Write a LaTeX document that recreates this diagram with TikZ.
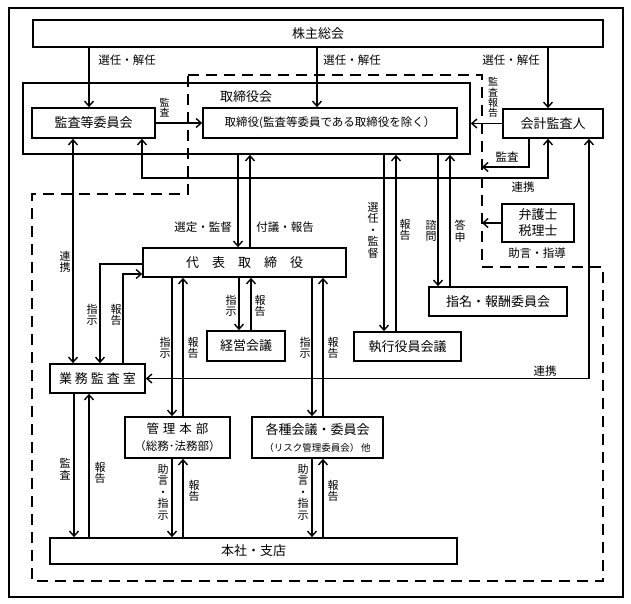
\documentclass[tikz,border=0pt]{standalone}
\usepackage{fontspec}
\setmainfont{Noto Sans CJK JP}
\usetikzlibrary{arrows.meta}
\begin{document}
\begin{tikzpicture}[x=1pt,y=-1pt,
 box/.style={draw, line width=1.7pt, inner sep=0pt, font=\fontsize{13}{15}\selectfont, align=center},
 arr/.style={line width=1.4pt, -{Straight Barb[length=5pt,width=9pt]}},
 arrboth/.style={line width=1.4pt, {Straight Barb[length=5pt,width=9pt]}-{Straight Barb[length=5pt,width=9pt]}},
 lbl/.style={inner sep=0pt, font=\fontsize{11.5}{13}\selectfont},
 vlbl/.style={inner sep=0pt, align=center, font=\fontsize{11}{11.5}\selectfont},
 dashline/.style={line width=2pt, dash pattern=on 11pt off 7pt}]
\useasboundingbox (0,0) rectangle (631,604);
% outer frame
\draw[line width=1.7pt] (9,8) rectangle (623,597);
% dashed region
\draw[dashline] (188,75) -- (482,75) -- (482,267) -- (603,267) -- (603,581) -- (32,581) -- (32,194) -- (188,194) -- cycle;
% boxes
\node[box, minimum width=570pt, minimum height=27pt] (kabunushi) at (318,33.5) {株主総会};
\node[box, minimum width=447pt, minimum height=71pt] (torikai) at (246.5,118.5) {};
\node[lbl, font=\fontsize{13}{15}\selectfont] (torikailbl) at (246,97) {取締役会};
\node[box, fill=white, minimum width=123pt, minimum height=30pt] (kansa) at (93.5,123) {監査等委員会};
\node[box, fill=white, minimum width=254pt, minimum height=30pt, font=\fontsize{11.5}{13}\selectfont] (tori) at (330,123) {取締役(監査等委員である取締役を除く）};
\node[box, minimum width=100pt, minimum height=29pt] (kaikei) at (553,123.5) {会計監査人};
\node[box, minimum width=72pt, minimum height=38pt, font=\fontsize{13}{16}\selectfont] (bengo) at (538,223) {弁護士\\税理士};
\node[box, minimum width=203pt, minimum height=29pt] (daihyo) at (244.5,262.5) {代\quad 表\quad 取\quad 締\quad 役};
\node[box, minimum width=138pt, minimum height=29pt] (shimei) at (498,301.5) {指名・報酬委員会};
\node[box, minimum width=78pt, minimum height=30pt] (keiei) at (246,346) {経営会議};
\node[box, minimum width=107pt, minimum height=29pt] (shikko) at (407.5,346.5) {執行役員会議};
\node[box, minimum width=95pt, minimum height=29pt] (gyomu) at (97.5,378.5) {業\hspace{3pt}務\hspace{3pt}監\hspace{3pt}査\hspace{3pt}室};
\node[box, minimum width=105pt, minimum height=41pt, font=\fontsize{12.5}{17}\selectfont] (kanri) at (177.5,437.5) {管\hspace{4pt}理\hspace{4pt}本\hspace{4pt}部\\{\fontsize{11.5}{14}\selectfont （総務･法務部）}};
\node[box, minimum width=131pt, minimum height=41pt, font=\fontsize{13}{17}\selectfont] (kakushu) at (317.5,437.5) {各種会議・委員会\\{\fontsize{9.5}{12}\selectfont （リスク管理委員会）\,他}};
\node[box, minimum width=407pt, minimum height=26pt] (honsha) at (253.5,551) {本社・支店};
% free-end coordinates on dashed line
\coordinate (dashA) at (482,167);
\coordinate (dashB) at (482,223);
% shareholders arrows
\draw[arr] (kabunushi.south -| 89,0) -- (kansa.north -| 89,0);
\draw[arr] (kabunushi.south -| 317,0) -- (tori.north -| 317,0);
\draw[arr] (kabunushi.south -| 548,0) -- (kaikei.north -| 548,0);
\node[lbl] (l1) at (127,60) {選任・解任};
\node[lbl] (l2) at (352,60) {選任・解任};
\node[lbl] (l3) at (511,60) {選任・解任};
% audit committee to directors
\draw[arr] (kansa.east) -- (tori.west);
\node[vlbl, font=\fontsize{10}{10.5}\selectfont] (l4) at (164.5,107.5) {監\\査};
% accounting auditor
\draw[arr] (kaikei.west) -- (torikai.east |- kaikei.west);
\node[vlbl, font=\fontsize{10}{10.3}\selectfont] (l5) at (493,97.5) {監\\査\\報\\告};
\draw[arr] (kaikei.south -| 529,0) |- (dashA);
\node[lbl] (l6) at (507,157) {監査};
\draw[arrboth] (kansa.south -| 142,0) |- (548,178) -- (kaikei.south -| 548,0);
\node[lbl] (l7) at (523,187) {連携};
\draw[arrboth] (gyomu.east) -| (kaikei.south -| 589,0);
\node[lbl] (l8) at (545,371) {連携};
% lawyers
\draw[arr] (bengo.west) -- (dashB);
\node[lbl] (l9) at (537,253) {助言・指導};
% audit committee - internal audit
\draw[arrboth] (kansa.south -| 73,0) -- (gyomu.north -| 73,0);
\node[vlbl] (l10) at (65,262) {連\\携};
% board - representative director
\draw[arr] (torikai.south -| 238,0) -- (daihyo.north -| 238,0);
\draw[arr] (daihyo.north -| 250,0) -- (torikai.south -| 250,0);
\node[lbl] (l11) at (203,227) {選定・監督};
\node[lbl] (l12) at (285,227) {付議・報告};
% board - executive officers
\draw[arr] (torikai.south -| 384,0) -- (shikko.north -| 384,0);
\draw[arr] (shikko.north -| 396,0) -- (torikai.south -| 396,0);
\node[vlbl] (l13) at (373,230) {選\\任\\・\\監\\督};
\node[vlbl] (l14) at (405,230) {報\\告};
% board - nomination committee
\draw[arr] (torikai.south -| 438,0) -- (shimei.north -| 438,0);
\draw[arr] (shimei.north -| 450,0) -- (torikai.south -| 450,0);
\node[vlbl] (l15) at (431,231) {諮\\問};
\node[vlbl] (l16) at (460,231) {答\\申};
% representative director - internal audit
\draw[arr] (daihyo.west |- 0,264) -| (gyomu.north -| 100,0);
\draw[arr] (gyomu.north -| 123,0) |- (daihyo.west |- 0,274);
\node[vlbl] (l17) at (92,315) {指\\示};
\node[vlbl] (l18) at (116,315) {報\\告};
% representative director - management meeting
\draw[arr] (daihyo.south -| 239,0) -- (keiei.north -| 239,0);
\draw[arr] (keiei.north -| 251,0) -- (daihyo.south -| 251,0);
\node[vlbl] (l19) at (231,306) {指\\示};
\node[vlbl] (l20) at (260,306) {報\\告};
% representative director - admin HQ
\draw[arr] (daihyo.south -| 172,0) -- (kanri.north -| 172,0);
\draw[arr] (kanri.north -| 183,0) -- (daihyo.south -| 183,0);
\node[vlbl] (l21) at (165,348) {指\\示};
\node[vlbl] (l22) at (193,348) {報\\告};
% representative director - committees
\draw[arr] (daihyo.south -| 312,0) -- (kakushu.north -| 312,0);
\draw[arr] (kakushu.north -| 323,0) -- (daihyo.south -| 323,0);
\node[vlbl] (l23) at (305,348) {指\\示};
\node[vlbl] (l24) at (333,348) {報\\告};
% internal audit - head office
\draw[arr] (gyomu.south -| 74,0) -- (honsha.north -| 74,0);
\draw[arr] (honsha.north -| 89,0) -- (gyomu.south -| 89,0);
\node[vlbl] (l25) at (65,469) {監\\査};
\node[vlbl] (l26) at (100,473) {報\\告};
% admin HQ - head office
\draw[arr] (kanri.south -| 172,0) -- (honsha.north -| 172,0);
\draw[arr] (honsha.north -| 183,0) -- (kanri.south -| 183,0);
\node[vlbl] (l27) at (163,492) {助\\言\\・\\指\\示};
\node[vlbl] (l28) at (194,491) {報\\告};
% committees - head office
\draw[arr] (kakushu.south -| 312,0) -- (honsha.north -| 312,0);
\draw[arr] (honsha.north -| 323,0) -- (kakushu.south -| 323,0);
\node[vlbl] (l29) at (303,492) {助\\言\\・\\指\\示};
\node[vlbl] (l30) at (333,491) {報\\告};
\end{tikzpicture}
\end{document}
